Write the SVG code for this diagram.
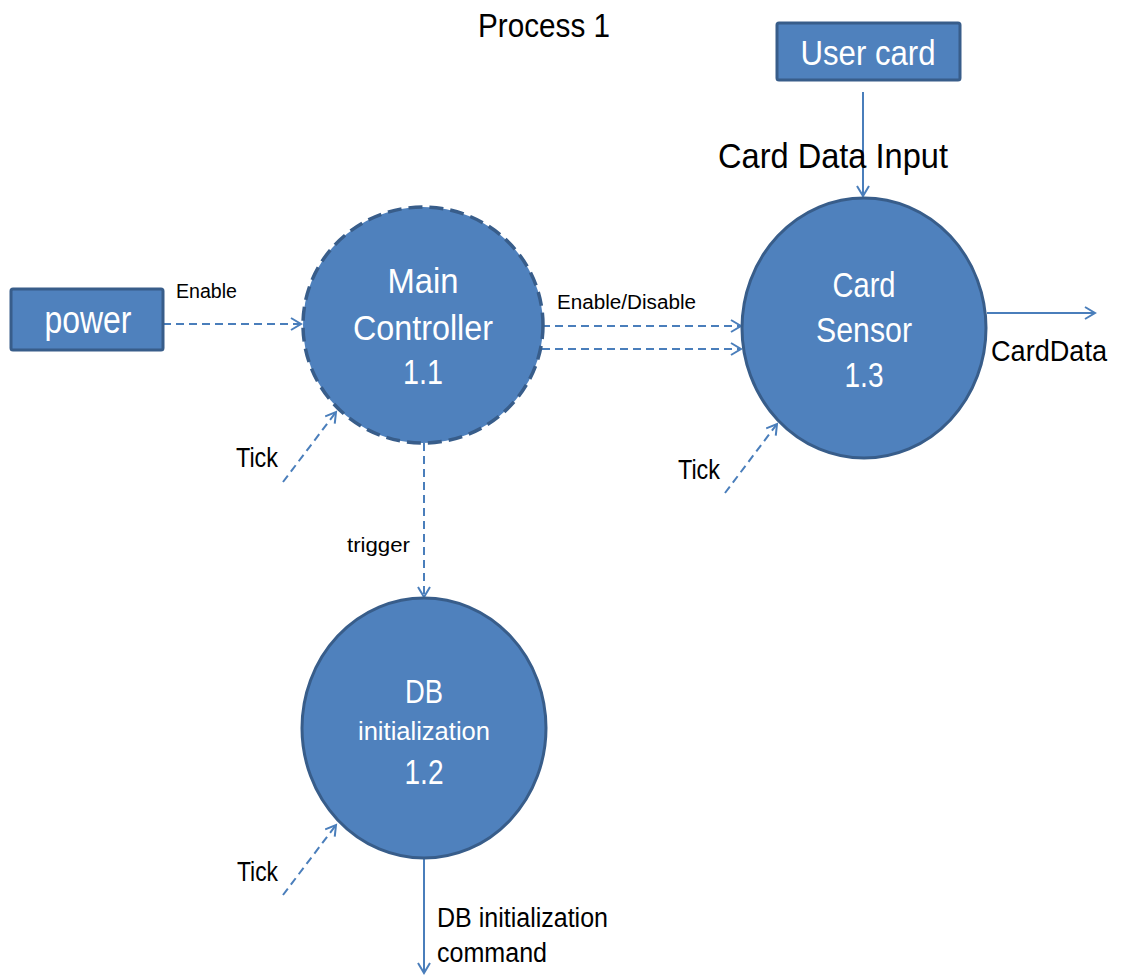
<svg xmlns="http://www.w3.org/2000/svg" width="1125" height="977" viewBox="0 0 1125 977">
<style>
.node{fill:#4F81BD;stroke:#385D8A;stroke-width:3}
.dashnode{fill:#4F81BD;stroke:#385D8A;stroke-width:3.5;stroke-dasharray:14 7}
.wt{fill:#FFFFFF;font-family:"Liberation Sans",Arial,sans-serif;text-anchor:middle}
.bt{fill:#000000;font-family:"Liberation Sans",Arial,sans-serif}
.flow{fill:none;stroke:#4A7EBB;stroke-width:2}
.dash{stroke-dasharray:8 5}
</style>
<defs>
<marker id="arr" markerWidth="14" markerHeight="14" refX="11" refY="7" orient="auto" markerUnits="userSpaceOnUse">
<path d="M1,1 L11,7 L1,13" fill="none" stroke="#4A7EBB" stroke-width="2"/>
</marker>
</defs>
<rect width="1125" height="977" fill="#FFFFFF"/>
<text class="bt" x="478" y="37" font-size="34" textLength="132" lengthAdjust="spacingAndGlyphs">Process 1</text>

<g id="connectors">
<line class="flow dash" x1="163" y1="324" x2="301" y2="324" marker-end="url(#arr)"/>
<line class="flow dash" x1="542" y1="326" x2="741" y2="326" marker-end="url(#arr)"/>
<line class="flow dash" x1="542" y1="349" x2="741" y2="349" marker-end="url(#arr)"/>
<line class="flow" x1="863" y1="92" x2="863" y2="196" marker-end="url(#arr)"/>
<line class="flow" x1="987" y1="313" x2="1095" y2="313" marker-end="url(#arr)"/>
<line class="flow dash" x1="424" y1="443" x2="424" y2="597" marker-end="url(#arr)"/>
<line class="flow" x1="424" y1="858" x2="424" y2="973" marker-end="url(#arr)"/>
<line class="flow dash" x1="283" y1="482" x2="336" y2="412" marker-end="url(#arr)"/>
<line class="flow dash" x1="725" y1="493" x2="777" y2="424" marker-end="url(#arr)"/>
<line class="flow dash" x1="283" y1="895" x2="336" y2="825" marker-end="url(#arr)"/>
<text class="bt" x="176" y="298" font-size="20" textLength="61" lengthAdjust="spacingAndGlyphs">Enable</text>
<text class="bt" x="557" y="309" font-size="20" textLength="139" lengthAdjust="spacingAndGlyphs">Enable/Disable</text>
<text class="bt" x="718" y="168" font-size="35" textLength="230" lengthAdjust="spacingAndGlyphs">Card Data Input</text>
<text class="bt" x="991" y="361" font-size="29" textLength="116" lengthAdjust="spacingAndGlyphs">CardData</text>
<text class="bt" x="347" y="552" font-size="20" textLength="63" lengthAdjust="spacingAndGlyphs">trigger</text>
<text class="bt" x="236" y="467" font-size="28" textLength="42" lengthAdjust="spacingAndGlyphs">Tick</text>
<text class="bt" x="678" y="479" font-size="28" textLength="42" lengthAdjust="spacingAndGlyphs">Tick</text>
<text class="bt" x="237" y="881" font-size="28" textLength="41" lengthAdjust="spacingAndGlyphs">Tick</text>
<text class="bt" x="437" y="927" font-size="27" textLength="171" lengthAdjust="spacingAndGlyphs">DB initialization</text>
<text class="bt" x="437" y="962" font-size="27" textLength="110" lengthAdjust="spacingAndGlyphs">command</text>
</g>

<g id="power">
<rect class="node" x="11" y="289" width="152" height="61" rx="2"/>
<text class="wt" x="88" y="333" font-size="38" textLength="87" lengthAdjust="spacingAndGlyphs">power</text>
</g>

<g id="usercard">
<rect class="node" x="777" y="23" width="183" height="57" rx="2"/>
<text class="wt" x="868" y="65" font-size="35" textLength="135" lengthAdjust="spacingAndGlyphs">User card</text>
</g>

<g id="maincontroller">
<ellipse class="dashnode" cx="423" cy="325" rx="120" ry="118"/>
<text class="wt" x="423" y="293" font-size="35" textLength="71" lengthAdjust="spacingAndGlyphs">Main</text>
<text class="wt" x="423" y="340" font-size="35" textLength="140" lengthAdjust="spacingAndGlyphs">Controller</text>
<text class="wt" x="423" y="384" font-size="35" textLength="40" lengthAdjust="spacingAndGlyphs">1.1</text>
</g>

<g id="cardsensor">
<ellipse class="node" cx="864" cy="328" rx="122" ry="130"/>
<text class="wt" x="864" y="297" font-size="35" textLength="63" lengthAdjust="spacingAndGlyphs">Card</text>
<text class="wt" x="864" y="342" font-size="35" textLength="96" lengthAdjust="spacingAndGlyphs">Sensor</text>
<text class="wt" x="864" y="387" font-size="35" textLength="39" lengthAdjust="spacingAndGlyphs">1.3</text>
</g>

<g id="dbinit">
<ellipse class="node" cx="424" cy="728" rx="122" ry="130"/>
<text class="wt" x="424" y="703" font-size="34" textLength="38" lengthAdjust="spacingAndGlyphs">DB</text>
<text class="wt" x="424" y="740" font-size="25" textLength="132" lengthAdjust="spacingAndGlyphs">initialization</text>
<text class="wt" x="424" y="784" font-size="35" textLength="39" lengthAdjust="spacingAndGlyphs">1.2</text>
</g>
</svg>
